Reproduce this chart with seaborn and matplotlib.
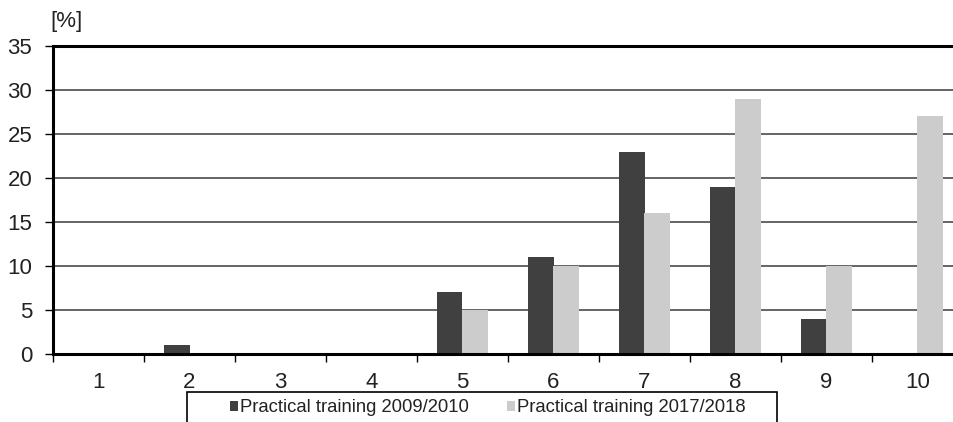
import matplotlib
matplotlib.use("Agg")
import matplotlib.pyplot as plt
import seaborn as sns
import pandas as pd
from matplotlib.patches import Patch, Rectangle
from matplotlib.ticker import FixedLocator

categories = ["1", "2", "3", "4", "5", "6", "7", "8", "9", "10"]
series_names = ["Practical training 2009/2010", "Practical training 2017/2018"]
values_2009 = [0, 1, 0, 0, 7, 11, 23, 19, 4, 0]
values_2017 = [0, 0, 0, 0, 5, 10, 16, 29, 10, 27]
y_ticks = [0, 5, 10, 15, 20, 25, 30, 35]
colors = ["#404040", "#cccccc"]

df = pd.DataFrame({
    "cat": categories * 2,
    "val": values_2009 + values_2017,
    "series": [series_names[0]] * 10 + [series_names[1]] * 10,
})

sns.set_style("white")
plt.rcParams["font.family"] = ["Liberation Sans", "DejaVu Sans"]

W, H = 954, 422
fig = plt.figure(figsize=(W / 100, H / 100), dpi=100)
ax = fig.add_axes([53 / W, (H - 354) / H, 910 / W, 308 / H])

sns.barplot(data=df, x="cat", y="val", hue="series", order=categories,
            hue_order=series_names, palette=colors, width=0.57, gap=0,
            saturation=1, ax=ax, legend=False, errorbar=None, linewidth=0)

ax.set_xlim(-0.5, 9.5)
ax.set_ylim(0, 35)
ax.set_yticks(y_ticks)
ax.set_xlabel("")
ax.set_ylabel("")

for y in y_ticks[1:-1]:
    ax.axhline(y, color="#3a3a3a", lw=1.1, zorder=0)
ax.axhline(35, color="black", lw=2.2, zorder=3, clip_on=False)

for s in ["right", "top"]:
    ax.spines[s].set_visible(False)
for s in ["left", "bottom"]:
    ax.spines[s].set_visible(True)
    ax.spines[s].set_color("black")
    ax.spines[s].set_linewidth(2.2)

ax.tick_params(axis="y", which="major", direction="out", length=6, width=1,
               color="black", labelsize=16, pad=9, left=True, labelcolor="#222222")
ax.tick_params(axis="x", which="major", length=0, labelsize=16, pad=13,
               labelcolor="#222222")
ax.xaxis.set_minor_locator(FixedLocator([i - 0.5 for i in range(11)]))
ax.tick_params(axis="x", which="minor", direction="out", length=6, width=1,
               color="black", bottom=True)

fig.text(50 / W, 1 - 21 / H, "[%]", fontsize=16, ha="left", va="center",
         color="#222222")

# legend frame (bottom edge runs past the image edge)
fig.patches.append(Rectangle((187 / W, -5 / H), (777 - 187) / W, (422 - 392 + 5) / H,
                             transform=fig.transFigure, facecolor="white",
                             edgecolor="black", linewidth=1.2, zorder=5))

handles = [Patch(facecolor=c, edgecolor="none") for c in colors]
leg = fig.legend(handles, series_names, loc="center",
                 bbox_to_anchor=(487.5 / W, 1 - 408 / H),
                 ncol=2, fontsize=13.3, frameon=False,
                 handlelength=0.43, handleheight=0.43, handletextpad=0.12,
                 columnspacing=2.05, borderpad=0, borderaxespad=0)
leg.set_zorder(6)
for t in leg.get_texts():
    t.set_color("#222222")

fig.savefig("out.png", dpi=100)
